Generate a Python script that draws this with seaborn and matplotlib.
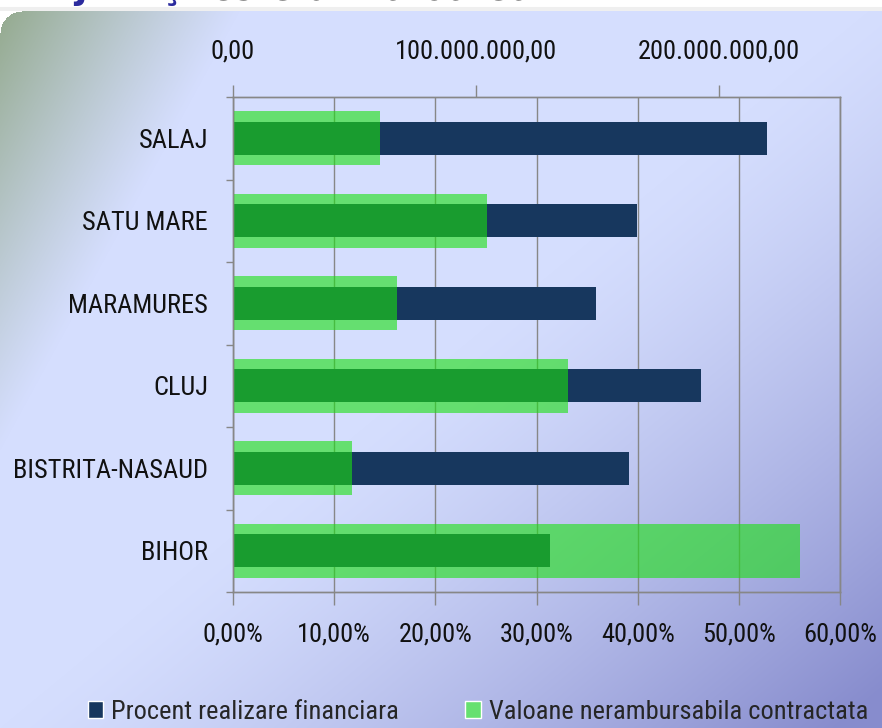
import numpy as np
import pandas as pd
import matplotlib
matplotlib.use("Agg")
import matplotlib.pyplot as plt
import matplotlib.ticker as mticker
from matplotlib import font_manager
from matplotlib.patches import Patch
import seaborn as sns

# --- DATA ---
judete = ["SALAJ", "SATU MARE", "MARAMURES", "CLUJ", "BISTRITA-NASAUD", "BIHOR"]
procent_realizare = [52.8, 39.9, 35.9, 46.3, 39.1, 31.3]          # %
valoare_contractata = [60.5e6, 104.6e6, 67.5e6, 138.0e6, 49.0e6, 233.5e6]  # lei

df = pd.DataFrame({
    "judet": judete,
    "procent": procent_realizare,
    "valoare": valoare_contractata,
})

NAVY = "#17375E"
GREEN = (27 / 255, 225 / 255, 17 / 255)
GRAY = "#878787"

sns.set_theme(style="white")

# pick a narrow font if one is around, else Liberation Sans
installed = {f.name for f in font_manager.fontManager.ttflist}
narrow = [n for n in ["Liberation Sans Narrow", "Roboto Condensed",
                      "Open Sans Condensed", "DejaVu Sans Condensed"]
          if n in installed]
if narrow:
    FAM, FS = narrow[0], 19
else:
    FAM, FS = "Liberation Sans", 15
plt.rcParams["font.family"] = [FAM, "DejaVu Sans"]
if FAM == "DejaVu Sans Condensed":
    FS = 16

W, H = 882, 728
fig = plt.figure(figsize=(W / 100, H / 100), dpi=100)

# --- background gradient (slide panel) ---
yy, xx = np.mgrid[0:H, 0:W].astype(float)
lav = np.array([213, 222, 254]) / 255
grn = np.array([148, 170, 142]) / 255
pur = np.array([135, 140, 205]) / 255
g = np.clip(1 - (xx / 240 + (yy - 10) / 440), 0, 1) ** 1.1
p = np.clip((xx / W + yy / H - 1.0) / 0.95, 0, 1) ** 1.3
img = lav[None, None, :] * np.ones((H, W, 1))
img = img * (1 - g[..., None]) + grn * g[..., None]
img = img * (1 - p[..., None]) + pur * p[..., None]
# white strip at the top + rounded corner of the panel
top = 11
r = 22
outside = (yy < top) | (((xx < r) & (yy < top + r)) &
                        ((xx - r) ** 2 + (yy - top - r) ** 2 > r ** 2))
img[outside] = 1.0
shade = (yy < top) & (yy >= top - 4)
img[shade] = img[shade] * 0.94

bg = fig.add_axes([0, 0, 1, 1], zorder=-10)
bg.imshow(img, aspect="auto", interpolation="bilinear")
bg.axis("off")

# cut-off slide title at the very top (only its lower edge shows)
fig.text(12 / W, 1 + 1 / H, "de judeţ", color="#2B2B9E", fontsize=26,
         fontweight="bold", va="baseline", ha="left", family="DejaVu Sans")
fig.text(210 / W, 1 + 1 / H, "este următoarea", color="#222222", fontsize=28,
         va="baseline", ha="left", family="DejaVu Sans")

# --- main axes ---
ax = fig.add_axes([233 / W, 1 - 592 / H, (840 - 233) / W, (592 - 97) / H])
ax.patch.set_visible(False)

sns.barplot(data=df, x="procent", y="judet", order=judete, orient="h",
            color=NAVY, saturation=1, width=0.4, linewidth=0, ax=ax)

ax2 = ax.twiny()
sns.barplot(data=df, x="valoare", y="judet", order=judete, orient="h",
            color=GREEN, saturation=1, width=0.66, linewidth=0, alpha=0.6,
            ax=ax2)

ax.set_xlim(0, 60)
ax2.set_xlim(0, 250e6)
ax.set_ylim(len(judete) - 0.5, -0.5)
ax2.set_ylim(len(judete) - 0.5, -0.5)

# bottom axis (percent)
ax.set_xticks(np.arange(0, 61, 10))
ax.xaxis.set_major_formatter(mticker.FuncFormatter(
    lambda v, _: f"{v:.2f}%".replace(".", ",")))
ax.tick_params(axis="x", bottom=True, direction="out", length=9, width=1,
               color=GRAY, labelsize=FS, pad=13, labelcolor="#111111")
ax.xaxis.grid(True, color=GRAY, linewidth=1)
ax.set_axisbelow(True)

# category axis
ax.set_yticks(range(len(judete)))
ax.set_yticklabels(judete)
ax.set_yticks(np.arange(-0.5, len(judete), 1), minor=True)
ax.tick_params(axis="y", which="major", left=False, length=0, labelsize=FS,
               pad=18, labelcolor="#111111")
ax.tick_params(axis="y", which="minor", left=True, direction="out", length=5,
               width=1, color=GRAY)

# top axis (values)
def lei(v, _):
    s = f"{v:,.2f}"
    return s.replace(",", "X").replace(".", ",").replace("X", ".")

ax2.set_xticks([0, 100e6, 200e6])
ax2.xaxis.set_major_formatter(mticker.FuncFormatter(lei))
ax2.tick_params(axis="x", top=True, direction="out", length=9, width=1,
                color=GRAY, labelsize=FS, pad=15, labelcolor="#111111")

ax.set_xlabel("")
ax.set_ylabel("")
ax2.set_xlabel("")
ax2.set_ylabel("")
for a in (ax, ax2):
    for sp in a.spines.values():
        sp.set_color(GRAY)
        sp.set_linewidth(1)

handles = [Patch(facecolor=NAVY, label="Procent realizare financiara"),
           Patch(facecolor=(102 / 255, 224 / 255, 112 / 255),
                 label="Valoane nerambursabila contractata")]
fig.legend(handles=handles, loc="center", bbox_to_anchor=(478 / W, 1 - 712 / H),
           ncol=2, frameon=False, fontsize=FS, handlelength=0.6,
           handleheight=0.6, handletextpad=0.3, columnspacing=2.5)

fig.savefig("out.png", dpi=100)
